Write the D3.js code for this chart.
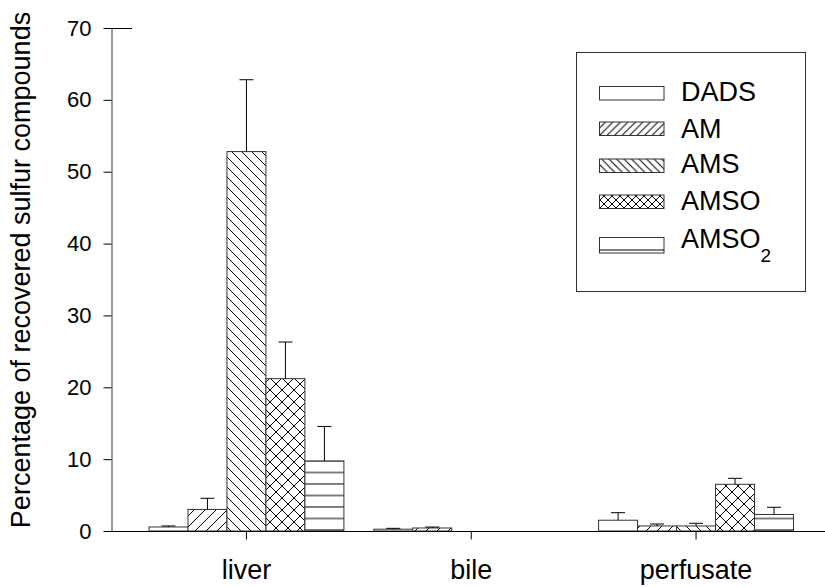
<!DOCTYPE html>
<html><head><meta charset="utf-8">
<script src="https://cdn.jsdelivr.net/npm/d3@7"></script>
<style>body{margin:0;background:#fff}svg{display:block;font-family:Arial,"Liberation Sans",sans-serif}</style>
</head><body><svg id="c" width="825" height="587"></svg>
<script>
const categories = ["liver", "bile", "perfusate"];
const seriesNames = ["DADS", "AM", "AMS", "AMSO", "AMSO2"];
const DADS  = [0.56, 0.25, 1.5];
const AM    = [3.0, 0.42, 0.7];
const AMS   = [52.8, 0, 0.7];
const AMSO  = [21.2, 0, 6.5];
const AMSO2 = [9.75, 0, 2.3];
const DADS_err  = [0.14, 0.12, 1.05];
const AM_err    = [1.55, 0.13, 0.27];
const AMS_err   = [10.0, 0, 0.37];
const AMSO_err  = [5.1, 0, 0.83];
const AMSO2_err = [4.8, 0, 1.0];
const yTicks = [0, 10, 20, 30, 40, 50, 60, 70];

const values = [DADS, AM, AMS, AMSO, AMSO2];
const errs = [DADS_err, AM_err, AMS_err, AMSO_err, AMSO2_err];

const svg = d3.select("#c");
const y = d3.scaleLinear().domain([0, 70]).range([531, 28]);
const x = d3.scaleBand().domain(categories).range([134, 808.5]).paddingInner(0.133).paddingOuter(0.0667);
const xs = d3.scaleBand().domain(seriesNames).range([0, x.bandwidth()]);

const defs = svg.append("defs");
function linePattern(id, size, d, yOff) {
  const p = defs.append("pattern").attr("id", id).attr("patternUnits", "userSpaceOnUse")
    .attr("width", size).attr("height", size).attr("x", 0).attr("y", yOff || 0);
  p.append("rect").attr("width", size).attr("height", size).attr("fill", "#fff");
  p.append("path").attr("d", d).attr("stroke", "#000").attr("stroke-width", 1).attr("fill", "none");
}
function diagUp(s){return `M0,${s} L${s},0 M${-s/2},${s/2} L${s/2},${-s/2} M${s/2},${s*1.5} L${s*1.5},${s/2}`;}
function diagDown(s){return `M0,0 L${s},${s} M${-s/2},${s/2} L${s/2},${s*1.5} M${s/2},${-s/2} L${s*1.5},${s/2}`;}
linePattern("pAM", 11, diagUp(11));
linePattern("pAMS", 10, diagDown(10));
linePattern("pAMSO", 12, diagUp(12) + diagDown(12));
linePattern("pAMSO2", 11.5, "M0,10.5 L11.5,10.5", 531);
linePattern("lAM", 7.5, diagUp(7.5));
linePattern("lAMS", 7.5, diagDown(7.5));
linePattern("lAMSO", 8, diagUp(8) + diagDown(8));

const fills = {DADS: "#fff", AM: "url(#pAM)", AMS: "url(#pAMS)", AMSO: "url(#pAMSO)", AMSO2: "url(#pAMSO2)"};
const legFills = {DADS: "#fff", AM: "url(#lAM)", AMS: "url(#lAMS)", AMSO: "url(#lAMSO)", AMSO2: "#fff"};

// bars
const data = [];
seriesNames.forEach((s, si) => categories.forEach((c, ci) => {
  data.push({s, c, v: values[si][ci], e: errs[si][ci]});
}));
const g = svg.append("g");
g.selectAll("rect.bar").data(data.filter(d => d.v > 0)).join("rect").attr("class", "bar")
  .attr("x", d => x(d.c) + xs(d.s))
  .attr("y", d => y(d.v))
  .attr("width", xs.bandwidth())
  .attr("height", d => y(0) - y(d.v))
  .attr("fill", d => fills[d.s])
  .attr("stroke", "#333").attr("stroke-width", 1);

// error bars
const eb = g.selectAll("g.err").data(data.filter(d => d.e > 0)).join("g").attr("class", "err");
eb.append("line")
  .attr("x1", d => x(d.c) + xs(d.s) + xs.bandwidth() / 2)
  .attr("x2", d => x(d.c) + xs(d.s) + xs.bandwidth() / 2)
  .attr("y1", d => y(d.v)).attr("y2", d => y(d.v + d.e))
  .attr("stroke", "#000");
eb.append("line")
  .attr("x1", d => x(d.c) + xs(d.s) + xs.bandwidth() / 2 - 7)
  .attr("x2", d => x(d.c) + xs(d.s) + xs.bandwidth() / 2 + 7)
  .attr("y1", d => y(d.v + d.e)).attr("y2", d => y(d.v + d.e))
  .attr("stroke", "#000");

// y axis
const yAxis = svg.append("g").attr("transform", "translate(111.5,0)")
  .call(d3.axisLeft(y).tickValues(yTicks).tickSize(8).tickPadding(12).tickSizeOuter(0));
yAxis.select(".domain").attr("stroke", "#333");
yAxis.selectAll("text").attr("font-size", 22).attr("fill", "#000").attr("font-family", "Arial, 'Liberation Sans', sans-serif");
svg.append("line").attr("x1", 111.5).attr("x2", 132).attr("y1", y(70) + 0.5).attr("y2", y(70) + 0.5).attr("stroke", "#000");

// x axis
const xAxis = svg.append("g").attr("transform", `translate(0,${y(0) + 0.5})`)
  .call(d3.axisBottom(x).tickSize(8).tickSizeOuter(0).tickPadding(22));
xAxis.select(".domain").attr("d", "M111,0H825");
xAxis.selectAll("text").attr("font-size", 27).attr("fill", "#000")
  .attr("dy", null).attr("y", 47.5).attr("font-family", "Arial, 'Liberation Sans', sans-serif");

// y title
svg.append("text").attr("transform", "translate(30,270) rotate(-90)")
  .attr("text-anchor", "middle").attr("font-size", 27).text("Percentage of recovered sulfur compounds");

// legend
const leg = svg.append("g");
leg.append("rect").attr("x", 576.5).attr("y", 52.5).attr("width", 229).attr("height", 239)
  .attr("fill", "#fff").attr("stroke", "#333");
const legY = [101, 138, 173, 210, 248];
const swY = [86, 121.5, 158.5, 194.5, 237];
seriesNames.forEach((s, i) => {
  const h = s === "AMSO2" ? 15.5 : 13.5;
  leg.append("rect").attr("x", 599.5).attr("y", swY[i] + 0.5).attr("width", 64.5).attr("height", h)
    .attr("fill", legFills[s]).attr("stroke", "#333");
  if (s === "AMSO2") {
    leg.append("line").attr("x1", 599.5).attr("x2", 664).attr("y1", swY[i] + 13).attr("y2", swY[i] + 13).attr("stroke", "#000");
  }
  const t = leg.append("text").attr("x", 681).attr("y", legY[i]).attr("font-size", 27);
  if (s === "AMSO2") {
    t.append("tspan").text("AMSO");
    t.append("tspan").attr("font-size", 19).attr("dy", 14).text("2");
  } else {
    t.text(s);
  }
});
</script></body></html>
